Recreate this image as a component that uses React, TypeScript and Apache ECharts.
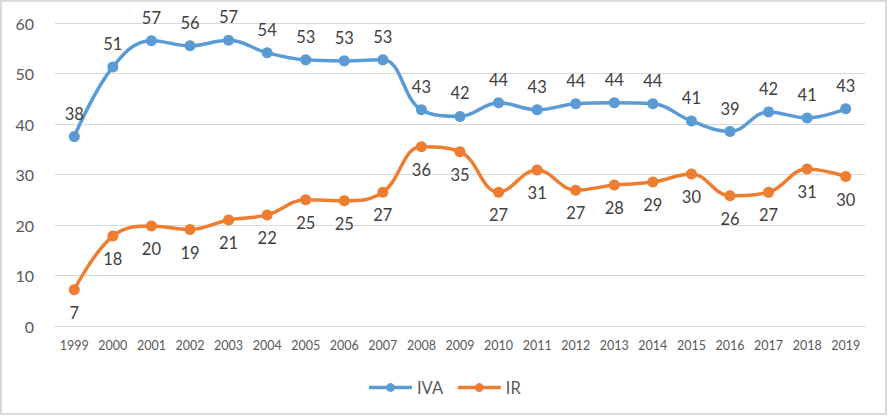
import React, { useEffect, useRef } from "react";
import * as echarts from "echarts";

const years = ["1999","2000","2001","2002","2003","2004","2005","2006","2007","2008","2009","2010","2011","2012","2013","2014","2015","2016","2017","2018","2019"];
const ivaValues = [37.5, 51.3, 56.5, 55.5, 56.6, 54.1, 52.7, 52.5, 52.7, 42.8, 41.5, 44.2, 42.8, 44.0, 44.2, 44.0, 40.6, 38.5, 42.4, 41.2, 43.0];
const irValues = [7.2, 17.8, 19.8, 19.1, 21.0, 22.0, 25.0, 24.8, 26.5, 35.5, 34.5, 26.5, 30.9, 26.9, 27.9, 28.5, 30.1, 25.8, 26.5, 31.1, 29.6];
const yTicks = { min: 0, max: 60, interval: 10 };

const FONT = "Lato, 'Open Sans', sans-serif";

export default function App() {
  const ref = useRef<HTMLDivElement>(null);
  useEffect(() => {
    document.body.style.margin = "0";
    const chart = echarts.init(ref.current!, null, { renderer: "svg" });
    const label = (pos: string) => ({
      show: true,
      position: pos,
      distance: 9,
      color: "#404040",
      fontSize: 16.5,
      fontFamily: FONT,
      formatter: (p: any) => String(Math.round(p.value)),
    });
    chart.setOption({
      animation: false,
      textStyle: { fontFamily: FONT },
      graphic: [
        {
          type: "rect",
          shape: { x: 1, y: 1, width: 885, height: 413 },
          style: { fill: "none", stroke: "#D9D9D9", lineWidth: 2 },
          silent: true,
        },
      ],
      grid: { left: 55, right: 23, top: 23, bottom: 90, containLabel: false },
      legend: {
        left: "center",
        top: 374,
        itemWidth: 43,
        itemHeight: 11,
        itemGap: 13,
        lineStyle: { width: 3.5 },
        textStyle: { color: "#595959", fontSize: 16.5, fontFamily: FONT },
        data: ["IVA", "IR"],
      },
      xAxis: {
        type: "category",
        data: years,
        boundaryGap: true,
        axisLine: { lineStyle: { color: "#D9D9D9" } },
        axisTick: { show: false },
        axisLabel: { color: "#595959", fontSize: 12.5, fontFamily: FONT, margin: 13, interval: 0 },
      },
      yAxis: {
        type: "value",
        min: yTicks.min,
        max: yTicks.max,
        interval: yTicks.interval,
        axisLine: { show: false },
        axisTick: { show: false },
        axisLabel: { color: "#595959", fontSize: 16, fontFamily: FONT, margin: 21 },
        splitLine: { lineStyle: { color: "#D9D9D9", width: 1 } },
      },
      series: [
        {
          name: "IVA",
          type: "line",
          data: ivaValues,
          smooth: 0.4,
          symbol: "circle",
          symbolSize: 11,
          lineStyle: { width: 3.5, color: "#5B9BD5" },
          itemStyle: { color: "#5B9BD5" },
          label: label("top"),
        },
        {
          name: "IR",
          type: "line",
          data: irValues,
          smooth: 0.4,
          symbol: "circle",
          symbolSize: 11,
          lineStyle: { width: 3.5, color: "#ED7D31" },
          itemStyle: { color: "#ED7D31" },
          label: label("bottom"),
        },
      ],
    });
    return () => chart.dispose();
  }, []);
  return <div ref={ref} style={{ width: 888, height: 416, position: "absolute", left: 0, top: 0 }} />;
}
